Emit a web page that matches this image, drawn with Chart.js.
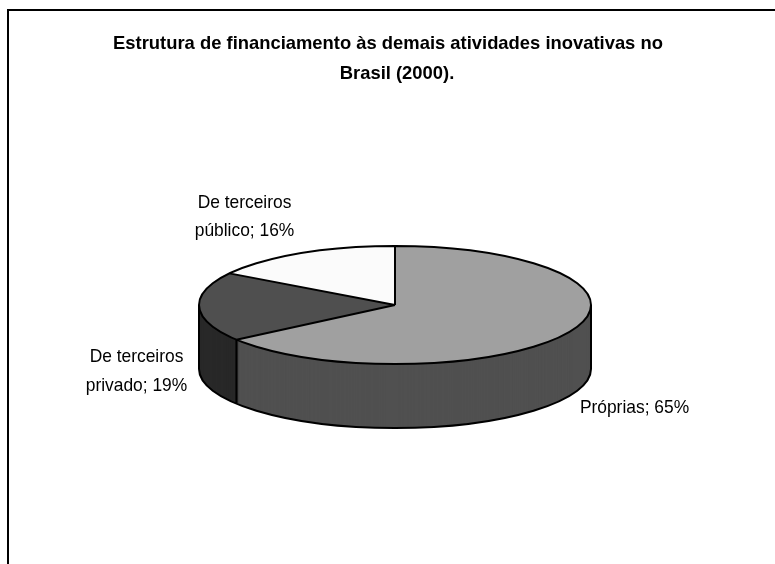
<!DOCTYPE html>
<html><head><meta charset="utf-8">
<style>html,body{margin:0;padding:0;background:#fff}canvas{display:block}</style>
<script src="https://cdn.jsdelivr.net/npm/chart.js@4/dist/chart.umd.min.js"></script>
</head><body><div style="width:775px;height:564px"><canvas id="c" width="775" height="564"></canvas></div>
<script>
const categories = ['Próprias','De terceiros privado','De terceiros público'];
const shares = [65,19,16];
const topColors = ['#a0a0a0','#4f4f4f','#fbfbfb'];
const sideColors = ['#505050','#282828','#7d7d7d'];
const titleLines = ['Estrutura de financiamento às demais atividades inovativas no','Brasil (2000).'];
const titlePos = [[388,48.5],[397,78.5]];
const labelLines = [['Próprias; 65%'],['De terceiros','privado; 19%'],['De terceiros','público; 16%']];
const labelPos = [[634.5,412.5,0],[136.5,362,29],[244.5,208,28]];

const SQUASH = 59/196, DEPTH = 64, LABEL_FONT='18.5px "Liberation Sans"', TITLE_FONT='bold 18.4px "Liberation Sans"', LABEL_NARROW=0.94;

function squash(ctx,cy){ctx.translate(0,cy);ctx.scale(1,SQUASH);ctx.translate(0,-cy);}
function text(ctx,t,x,y,sx){ctx.save();ctx.translate(x,y);ctx.scale(sx,1);ctx.fillText(t,0,0);ctx.restore();}

const pie3d = {
  id:'pie3d',
  beforeDraw(chart){
    const ctx=chart.ctx;ctx.save();
    ctx.strokeStyle='#000';ctx.lineWidth=2;
    ctx.beginPath();ctx.moveTo(8,564);ctx.lineTo(8,10);ctx.lineTo(775,10);ctx.stroke();
    ctx.restore();
  },
  beforeDatasetsDraw(chart){
    const ctx=chart.ctx, arcs=chart.getDatasetMeta(0).data, cy=arcs[0].y;
    for(let d=DEPTH;d>=1;d--){
      arcs.forEach((a,i)=>{
        const bg=a.options.backgroundColor;
        a.options.backgroundColor=sideColors[i];
        ctx.save();ctx.translate(0,d);squash(ctx,cy);a.draw(ctx);ctx.restore();
        a.options.backgroundColor=bg;
      });
    }
    ctx.save();squash(ctx,cy);
  },
  afterDatasetsDraw(chart){
    const ctx=chart.ctx, arcs=chart.getDatasetMeta(0).data;
    ctx.restore();
    const a0=arcs[0],cx=a0.x,cy=a0.y,rx=a0.outerRadius,ry=rx*SQUASH;
    ctx.save();ctx.strokeStyle='#000';ctx.lineWidth=2;ctx.lineJoin='round';
    ctx.beginPath();ctx.ellipse(cx,cy,rx,ry,0,0,Math.PI*2);
    arcs.forEach(a=>{
      ctx.moveTo(cx,cy);
      ctx.lineTo(cx+rx*Math.cos(a.startAngle),cy+ry*Math.sin(a.startAngle));
    });
    ctx.stroke();
    ctx.beginPath();
    ctx.moveTo(cx+rx,cy);ctx.lineTo(cx+rx,cy+DEPTH);
    ctx.ellipse(cx,cy+DEPTH,rx,ry,0,0,Math.PI);
    ctx.lineTo(cx-rx,cy);
    const e=a0.endAngle,ex=cx+rx*Math.cos(e),ey=cy+ry*Math.sin(e);
    ctx.moveTo(ex,ey);ctx.lineTo(ex,ey+DEPTH);
    ctx.stroke();
    ctx.fillStyle='#000';ctx.textAlign='center';ctx.textBaseline='alphabetic';
    ctx.font=LABEL_FONT;
    labelLines.forEach((ls,i)=>ls.forEach((t,j)=>text(ctx,t,labelPos[i][0],labelPos[i][1]+j*labelPos[i][2],LABEL_NARROW)));
    ctx.font=TITLE_FONT;
    titleLines.forEach((t,i)=>text(ctx,t,titlePos[i][0],titlePos[i][1],1));
    ctx.restore();
  }
};

new Chart(document.getElementById('c'),{
  type:'pie',
  data:{labels:categories,datasets:[{data:shares,backgroundColor:topColors,borderWidth:0}]},
  plugins:[pie3d],
  options:{
    responsive:false,animation:false,radius:196,
    layout:{padding:{left:15,top:46}},
    plugins:{legend:{display:false},tooltip:{enabled:false},title:{display:false}}
  }
});
</script></body></html>
